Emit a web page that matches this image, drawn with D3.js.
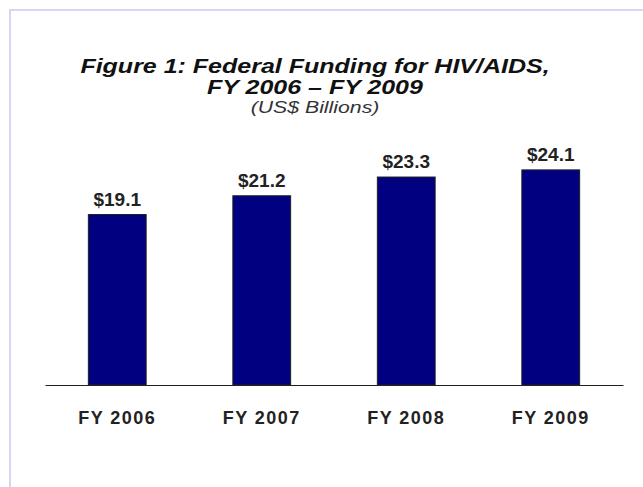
<!DOCTYPE html>
<html>
<head>
<meta charset="utf-8">
<script src="https://cdn.jsdelivr.net/npm/d3@7"></script>
<style>
  body { margin: 0; background: #fff; }
  svg { display: block; font-family: "Liberation Sans", Arial, sans-serif; }
</style>
</head>
<body>
<svg id="chart" width="643" height="487"></svg>
<script>
var years = ['FY 2006', 'FY 2007', 'FY 2008', 'FY 2009']
var funding = [19.1, 21.2, 23.3, 24.1]
var titleLines = ['Figure 1: Federal Funding for HIV/AIDS,', 'FY 2006 \u2013 FY 2009']
var subtitle = '(US$ Billions)'

var svg = d3.select('#chart')

// light frame, open at right and bottom
svg.append('path')
    .attr('d', 'M10,487V10H643')
    .attr('fill', 'none')
    .attr('stroke', '#d6d6f2')
    .attr('stroke-width', 2)

var margin = {left: 45, right: 20, top: 144, bottom: 102},
    width = 643 - margin.left - margin.right,
    height = 487 - margin.top - margin.bottom

var g = svg.append('g')
    .attr('transform', 'translate(' + margin.left + ',' + margin.top + ')')

var x = d3.scaleBand()
    .domain(years)
    .range([0, width])
    .paddingInner(0.6)
    .paddingOuter(0.3)

var y = d3.scaleLinear()
    .domain([0, 27])
    .range([height, 0])

g.selectAll('rect.bar')
    .data(funding)
  .enter().append('rect')
    .attr('class', 'bar')
    .attr('x', function(d, i){ return x(years[i]) })
    .attr('y', function(d){ return y(d) })
    .attr('width', x.bandwidth())
    .attr('height', function(d){ return height - y(d) })
    .attr('fill', '#000080')
    .attr('stroke', '#222')
    .attr('stroke-width', 1)

g.selectAll('text.val')
    .data(funding)
  .enter().append('text')
    .attr('class', 'val')
    .attr('x', function(d, i){ return x(years[i]) + x.bandwidth() / 2 })
    .attr('y', function(d){ return y(d) - 9 })
    .attr('text-anchor', 'middle')
    .attr('font-size', 19)
    .attr('font-weight', 'bold')
    .attr('fill', '#222')
    .text(function(d){ return '$' + d.toFixed(1) })

var xAxis = g.append('g')
    .attr('transform', 'translate(0,' + height + ')')
    .call(d3.axisBottom(x).tickSize(0).tickPadding(26))

xAxis.select('.domain').attr('stroke', '#222').attr('stroke-width', 1.2)
xAxis.selectAll('text')
    .attr('font-size', 18)
    .attr('font-weight', 'bold')
    .attr('letter-spacing', 1.5)
    .attr('fill', '#222')
    .attr('font-family', '"Liberation Sans", Arial, sans-serif')

// title is set wide: stretch horizontally
var cx = 315, stretch = 1.25
svg.selectAll('text.title')
    .data(titleLines)
  .enter().append('text')
    .attr('class', 'title')
    .attr('transform', function(d, i){
      return 'translate(' + cx + ',' + (73 + i * 21) + ') scale(' + stretch + ',1)'
    })
    .attr('text-anchor', 'middle')
    .attr('font-size', 20)
    .attr('font-weight', 'bold')
    .attr('font-style', 'italic')
    .attr('fill', '#111')
    .text(function(d){ return d })

svg.append('text')
    .attr('transform', 'translate(' + cx + ',113) scale(' + stretch + ',1)')
    .attr('text-anchor', 'middle')
    .attr('font-size', 17)
    .attr('font-style', 'italic')
    .attr('fill', '#333')
    .text(subtitle)
</script>
</body>
</html>
